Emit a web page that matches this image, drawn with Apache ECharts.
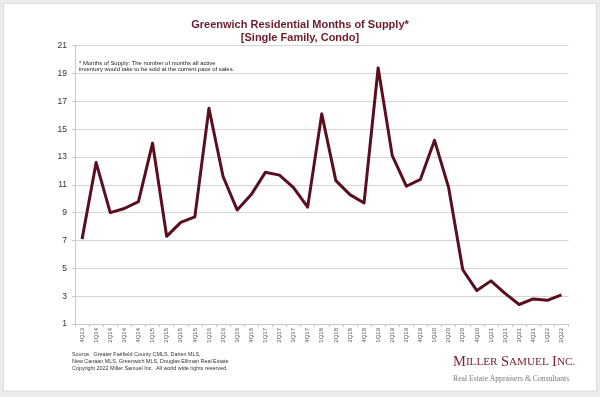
<!DOCTYPE html>
<html>
<head>
<meta charset="utf-8">
<script src="https://cdn.jsdelivr.net/npm/echarts@6/dist/echarts.min.js"></script>
<style>
html,body{margin:0;padding:0;background:#ebebeb;}
#c{width:600px;height:397px;}
</style>
</head>
<body>
<div id="c"></div>
<script>
const categories = ['4Q13',
 '1Q14','2Q14','3Q14','4Q14',
 '1Q15','2Q15','3Q15','4Q15',
 '1Q16','2Q16','3Q16','4Q16',
 '1Q17','2Q17','3Q17','4Q17',
 '1Q18','2Q18','3Q18','4Q18',
 '1Q19','2Q19','3Q19','4Q19',
 '1Q20','2Q20','3Q20','4Q20',
 '1Q21','2Q21','3Q21','4Q21',
 '1Q22','2Q22'];
const monthsOfSupply = [7.1,
 12.6, 9.0, 9.3, 9.8,
 14.0, 7.3, 8.3, 8.7,
 16.5, 11.6, 9.2, 10.3,
 11.9, 11.7, 10.8, 9.4,
 16.1, 11.3, 10.3, 9.7,
 19.4, 13.1, 10.9, 11.4,
 14.2, 10.8, 4.9, 3.4,
 4.1, 3.2, 2.4, 2.8,
 2.7, 3.1];
const yTicks = [1,3,5,7,9,11,13,15,17,19,21];

const titleLines = ['Greenwich Residential Months of Supply*', '[Single Family, Condo]'];
const noteLines = ['* Months of Supply: The number of months all active',
                   'inventory would take to be sold at the current pace of sales.'];
const sourceLines = ['Source:  Greater Fairfield County CMLS, Darien MLS,',
                     'New Canaan MLS, Greenwich MLS, Douglas Elliman Real Estate',
                     'Copyright 2022 Miller Samuel Inc.  All world wide rights reserved.'];

const chart = echarts.init(document.getElementById('c'), null, {renderer:'canvas'});
const option = {
  backgroundColor: '#ebebeb',
  animation: false,
  graphic: [
    {type:'rect', shape:{x:3.5,y:3.5,width:593,height:387.5}, style:{fill:'#ffffff', stroke:'#dcdcdc', lineWidth:1}, z:-10},
    {type:'text', x:300, y:25, style:{text:titleLines[0], font:'bold 11px "Liberation Sans", Arial, sans-serif', fill:'#6b1b2b', align:'center', verticalAlign:'middle'}},
    {type:'text', x:300, y:38, style:{text:titleLines[1], font:'bold 11px "Liberation Sans", Arial, sans-serif', fill:'#6b1b2b', align:'center', verticalAlign:'middle'}},
    {type:'text', x:79, y:63, style:{text:noteLines[0], font:'5.9px "Liberation Sans", Arial, sans-serif', fill:'#222', align:'left', verticalAlign:'middle'}},
    {type:'text', x:79, y:69.7, style:{text:noteLines[1], font:'5.9px "Liberation Sans", Arial, sans-serif', fill:'#222', align:'left', verticalAlign:'middle'}},
    {type:'text', x:72, y:355, style:{text:sourceLines[0], font:'5.4px "Liberation Sans", Arial, sans-serif', fill:'#333', align:'left', verticalAlign:'middle'}},
    {type:'text', x:72, y:361.7, style:{text:sourceLines[1], font:'5.4px "Liberation Sans", Arial, sans-serif', fill:'#333', align:'left', verticalAlign:'middle'}},
    {type:'text', x:72, y:368.3, style:{text:sourceLines[2], font:'5.4px "Liberation Sans", Arial, sans-serif', fill:'#333', align:'left', verticalAlign:'middle'}},
    {type:'text', x:453, y:362, style:{
      text:'{b|M}{s|ILLER} {b|S}{s|AMUEL} {b|I}{s|NC.}',
      align:'left', verticalAlign:'middle',
      rich:{
        b:{fontFamily:'"Liberation Serif", "DejaVu Serif", serif', fontSize:14.5, fill:'#7a2232', color:'#7a2232'},
        s:{fontFamily:'"Liberation Serif", "DejaVu Serif", serif', fontSize:11.2, fill:'#7a2232', color:'#7a2232'}
      }}},
    {type:'text', x:453, y:379, style:{text:'Real Estate Appraisers & Consultants', font:'7.7px "Liberation Serif", "DejaVu Serif", serif', fill:'#7a7a7a', align:'left', verticalAlign:'middle'}}
  ],
  grid: {left:75, right:31.5, top:45.7, bottom:73, containLabel:false},
  xAxis: {
    type:'category', data: categories, boundaryGap:true,
    axisLine:{show:true, lineStyle:{color:'#c8c8c8', width:1}},
    axisTick:{show:true, length:3, lineStyle:{color:'#c8c8c8'}},
    axisLabel:{rotate:90, fontSize:6, color:'#555', margin:4, interval:0, fontFamily:'"Liberation Sans", Arial, sans-serif'}
  },
  yAxis: {
    type:'value', min:1, max:21, interval:2,
    axisLine:{show:true, lineStyle:{color:'#c8c8c8', width:1}},
    axisTick:{show:true, length:3, lineStyle:{color:'#c8c8c8'}, customValues: yTicks},
    axisLabel:{fontSize:8.5, color:'#333', margin:8, fontFamily:'"Liberation Sans", Arial, sans-serif', customValues: yTicks},
    splitLine:{show:true, lineStyle:{color:'#d6d6d6', width:1}}
  },
  series: [{
    type:'line', data: monthsOfSupply, symbol:'none', smooth:false,
    lineStyle:{color:'#5a0f1f', width:3, join:'round'},
    itemStyle:{color:'#5a0f1f'}
  }]
};
chart.setOption(option);
</script>
</body>
</html>
